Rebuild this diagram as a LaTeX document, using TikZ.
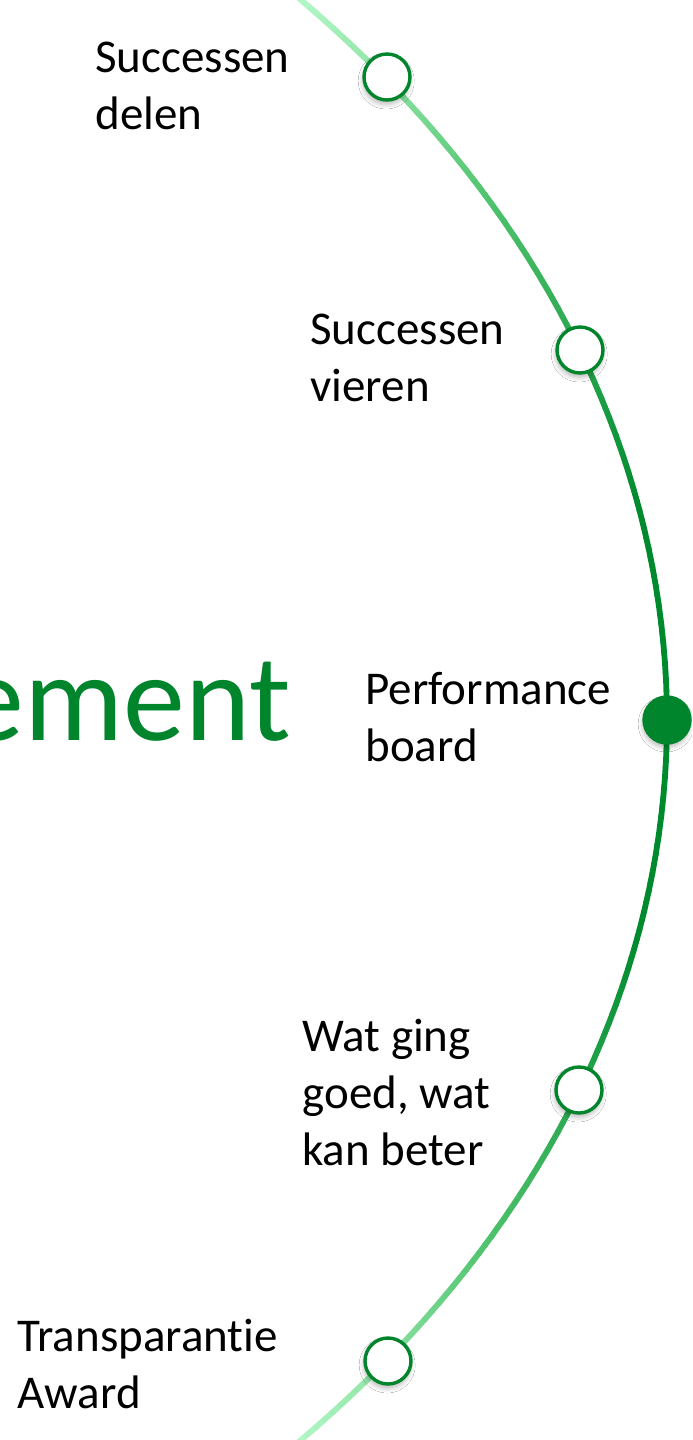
\documentclass[tikz,border=0pt]{standalone}
\usepackage{fontspec}
\setmainfont{Carlito}[Ligatures=NoCommon]
\usetikzlibrary{shadows.blur}
\definecolor{gdark}{RGB}{0,132,44}
\definecolor{arcdark}{RGB}{0,138,46}
\definecolor{arcmid}{RGB}{78,194,108}
\definecolor{arclight}{RGB}{178,247,198}
\tikzset{
 lbl/.style={anchor=north west, inner sep=0pt, align=left, font=\fontsize{23.5}{28.5}\selectfont, text=black},
 stepdot/.style={circle, draw=gdark, line width=1.7pt, fill=white, minimum size=23pt, inner sep=0pt,
   blur shadow={shadow xshift=-0.4pt, shadow yshift=-2pt, shadow blur steps=8, shadow blur radius=2.5pt, shadow opacity=30}},
 activedot/.style={stepdot, fill=gdark},
}
\begin{document}
\begin{tikzpicture}[x=0.5pt,y=-0.5pt]
\useasboundingbox (0,0) rectangle (692,1440);
\clip (0,0) rectangle (692,1440);
\fill[white] (0,0) rectangle (692,1440);
\node[anchor=base east, inner sep=0pt, text=gdark, font=\fontsize{62}{70}\selectfont] (title) at (291,740) {ement};
\foreach \i in {-84,...,83} {
  \pgfmathsetmacro\ta{\i*0.5}
  \pgfmathsetmacro\tb{\ta+0.5}
  \pgfmathsetmacro\f{abs(sin(\ta+0.25))*1100/720}
  \pgfmathtruncatemacro\pa{min(100,max(0,(\f-0.3)/0.42*100))}
  \pgfmathtruncatemacro\pb{min(100,max(0,(\f-0.72)/0.28*100))}
  \colorlet{segA}{arcmid!\pa!arcdark}
  \colorlet{segc}{arclight!\pb!segA}
  \draw[segc, line width=2.9pt, line cap=round] ({-833+1500*cos(\ta)},{720-1100*sin(\ta)}) -- ({-833+1500*cos(\tb)},{720-1100*sin(\tb)});
}
\node[stepdot] (s1) at (387,77) {};
\node[stepdot] (s2) at (580,350) {};
\node[activedot] (s3) at (667,720) {};
\node[stepdot] (s4) at (579,1090) {};
\node[stepdot] (s5) at (388,1361) {};
\node[lbl] (l1) at (95,42) {Successen\\delen};
\node[lbl] (l2) at (310,314) {Successen\\vieren};
\node[lbl] (l3) at (365,672) {Performance\\board};
\node[lbl] (l4) at (302,1019) {Wat ging\\goed, wat\\kan beter};
\node[lbl] (l5) at (17,1319) {Transparantie\\Award};
\end{tikzpicture}
\end{document}
